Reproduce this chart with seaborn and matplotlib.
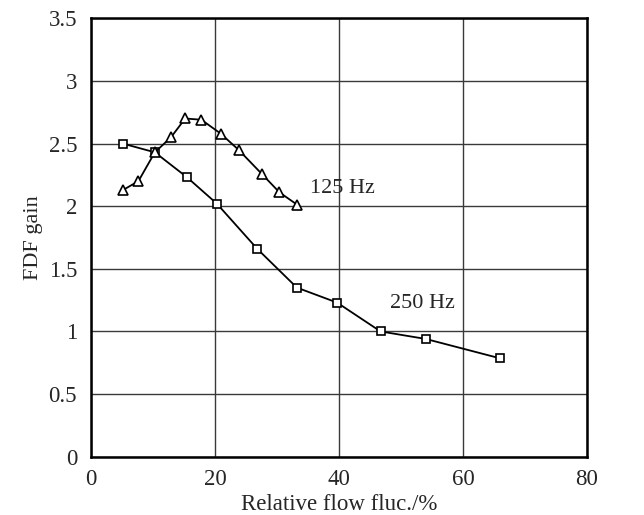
import numpy as np
import pandas as pd
import matplotlib
matplotlib.use("Agg")
import matplotlib.pyplot as plt
import seaborn as sns

# 数据
flow_250 = [5.1, 10.3, 15.5, 20.3, 26.8, 33.2, 39.7, 46.7, 54.0, 66.0]
gain_250 = [2.50, 2.43, 2.23, 2.02, 1.66, 1.35, 1.23, 1.00, 0.94, 0.785]

flow_125 = [5.2, 7.65, 10.3, 12.9, 15.2, 17.8, 20.9, 23.8, 27.5, 30.4, 33.3]
gain_125 = [2.13, 2.20, 2.43, 2.55, 2.70, 2.69, 2.58, 2.45, 2.26, 2.11, 2.01]

x_ticks = [0, 20, 40, 60, 80]
y_ticks = [0, 0.5, 1, 1.5, 2, 2.5, 3, 3.5]
y_tick_labels = ['0', '0.5', '1', '1.5', '2', '2.5', '3', '3.5']

sns.set_style("white")
plt.rcParams['font.family'] = ['Liberation Serif', 'DejaVu Serif']

df_250 = pd.DataFrame({'flow': flow_250, 'gain': gain_250})
df_125 = pd.DataFrame({'flow': flow_125, 'gain': gain_125})

fig = plt.figure(figsize=(6.44, 5.15), dpi=100)
ax = fig.add_axes([0.1413, 0.1132, 0.7702, 0.8513])

sns.lineplot(data=df_250, x='flow', y='gain', ax=ax, color='black', lw=1.3,
             marker='s', markersize=6, markerfacecolor='white',
             markeredgecolor='black', markeredgewidth=1.2, sort=False, zorder=3)
sns.lineplot(data=df_125, x='flow', y='gain', ax=ax, color='black', lw=1.3,
             marker='^', markersize=6.5, markerfacecolor='white',
             markeredgecolor='black', markeredgewidth=1.2, sort=False, zorder=3)

ax.text(35.4, 2.14, '125 Hz', fontsize=16, va='center', ha='left')
ax.text(48.3, 1.22, '250 Hz', fontsize=16, va='center', ha='left')

ax.set_xlim(0, 80)
ax.set_ylim(0, 3.5)
ax.set_xticks(x_ticks)
ax.set_yticks(y_ticks)
ax.set_yticklabels(y_tick_labels)
ax.tick_params(axis='both', length=0, labelsize=16.5)
ax.tick_params(axis='x', pad=9)
ax.tick_params(axis='y', pad=10)
ax.grid(True, color='#3a3a3a', lw=1.0)
ax.set_axisbelow(True)
for s in ax.spines.values():
    s.set_color('black')
    s.set_linewidth(1.8)

ax.set_xlabel('Relative flow fluc./%', fontsize=16.5, labelpad=3)
ax.set_ylabel('FDF gain', fontsize=16, labelpad=4)

plt.savefig('out.png', dpi=100)
